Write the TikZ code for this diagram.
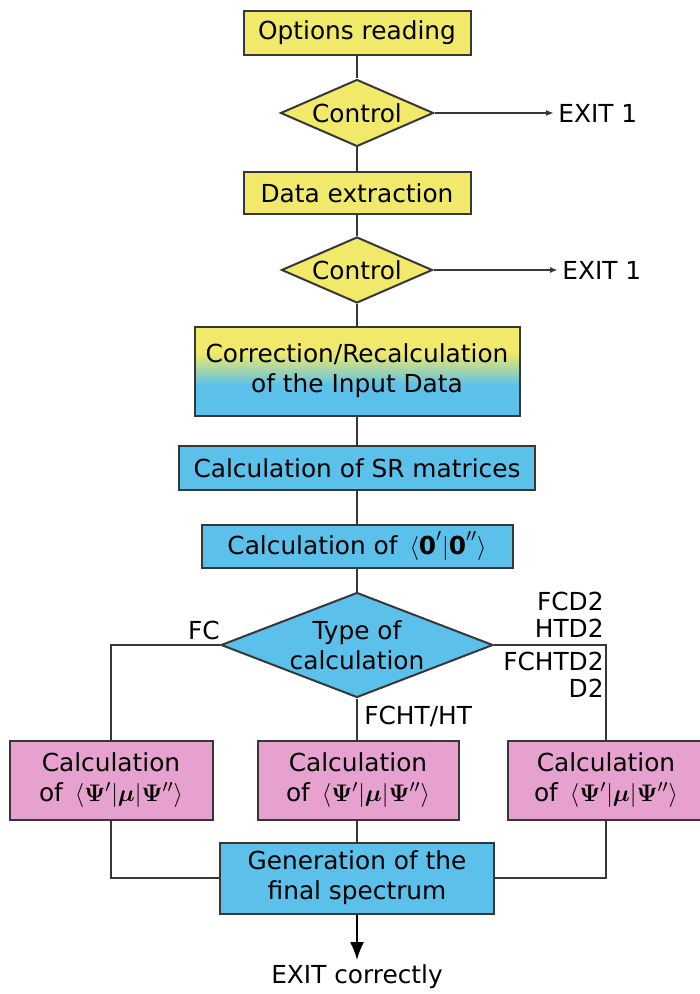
\documentclass[tikz,border=0pt]{standalone}
\usepackage{amsmath,amssymb}
\usepackage{bm}
\usepackage[no-math]{fontspec}
\setmainfont{DejaVu Sans}
\usetikzlibrary{shapes.geometric,arrows.meta}
\definecolor{flowyellow}{RGB}{240,233,106}
\definecolor{flowblue}{RGB}{91,193,235}
\definecolor{flowpink}{RGB}{231,161,206}
\definecolor{flowline}{RGB}{55,55,55}
\pgfdeclareverticalshading{yellowblue}{100bp}{color(0bp)=(flowblue); color(42bp)=(flowblue); color(60bp)=(flowyellow); color(100bp)=(flowyellow)}
\newcommand{\flowfont}{\fontsize{12.4}{15}\selectfont}
\newcommand{\labelfont}{\fontsize{12.4}{13.5}\selectfont}
\newcommand{\dipole}{$\langle\mathbf{\Psi}'|\bm{\mu}|\mathbf{\Psi}''\rangle$}
\tikzstyle{flowbox} = [draw=flowline, line width=1pt, rectangle, inner sep=0pt,
    align=center, font=\flowfont]
\tikzstyle{decision} = [draw=flowline, line width=1pt, diamond, inner sep=0pt,
    align=center, font=\flowfont]
\tikzstyle{flowlabel} = [inner sep=2pt, font=\labelfont]
\tikzstyle{conn} = [draw=flowline, line width=0.8pt]
\tikzstyle{exitarrow} = [conn, -{Latex[length=4pt,width=3pt]}]
\tikzstyle{endarrow} = [draw=black, line width=0.8pt, -{Latex[length=9pt,width=7pt]}]

\begin{document}
\begin{tikzpicture}[x=0.5pt, y=-0.5pt]
                \useasboundingbox (0,0) rectangle (700,994);
                \node [flowbox, fill=flowyellow, minimum width=113.5pt, minimum height=22pt] (opts) at (357,33) {Options reading};
                \node [decision, fill=flowyellow, minimum width=76.5pt, minimum height=33.5pt, aspect=2.28] (ctrla) at (357,113) {Control};
                \node [flowbox, fill=flowyellow, minimum width=113.5pt, minimum height=21pt] (data) at (357,193) {Data extraction};
                \node [decision, fill=flowyellow, minimum width=75.5pt, minimum height=33pt, aspect=2.28] (ctrlb) at (357,270) {Control};
                \node [flowbox, shading=yellowblue, minimum width=162.5pt, minimum height=44.5pt] (corr) at (357,371) {Correction/Recalculation\\of the Input Data};
                \node [flowbox, fill=flowblue, minimum width=178pt, minimum height=22pt] (srmat) at (357,468) {Calculation of SR matrices};
                \node [flowbox, fill=flowblue, minimum width=155.5pt, minimum height=21.5pt] (ovl) at (357,546) {Calculation of~\,$\langle\textbf{0}'|\textbf{0}''\rangle$};
                \node [decision, fill=flowblue, minimum width=136pt, minimum height=52.5pt, aspect=2.6] (type) at (357,645) {Type of\\calculation};
                \node [flowbox, fill=flowpink, minimum width=101.5pt, minimum height=39.5pt] (calcl) at (111,780) {Calculation\\of~\,\dipole};
                \node [flowbox, fill=flowpink, minimum width=100.5pt, minimum height=39.5pt] (calcm) at (358,780) {Calculation\\of~\,\dipole};
                \node [flowbox, fill=flowpink, minimum width=98pt, minimum height=39.5pt] (calcr) at (606,780) {Calculation\\of~\,\dipole};
                \node [flowbox, fill=flowblue, minimum width=137pt, minimum height=35.5pt] (gen) at (357,878) {Generation of the\\final spectrum};
                \node [flowlabel, anchor=west] (exita) at (554,113) {EXIT 1};
                \node [flowlabel, anchor=west] (exitb) at (558,270) {EXIT 1};
                \node [flowlabel, anchor=north] (exitok) at (357,960) {EXIT correctly};
                \node [flowlabel, anchor=south east] (fc) at (224,644) {FC};
                \node [flowlabel, anchor=south east, align=right] (dtwoa) at (608,642) {FCD2\\HTD2};
                \node [flowlabel, anchor=north east, align=right] (dtwob) at (608,648) {FCHTD2\\D2};
                \node [flowlabel, anchor=west] (fcht) at (360,716) {FCHT/HT};
                \draw [conn] (opts) -- (ctrla);
                \draw [conn] (ctrla) -- (data);
                \draw [conn] (data) -- (ctrlb);
                \draw [conn] (ctrlb) -- (corr);
                \draw [conn] (corr) -- (srmat);
                \draw [conn] (srmat) -- (ovl);
                \draw [conn] (ovl) -- (type);
                \draw [exitarrow] (ctrla.east) -- (exita.west);
                \draw [exitarrow] (ctrlb.east) -- (exitb.west);
                \draw [conn] (type.west) -| (calcl.north);
                \draw [conn] (type.south) -- (type.south |- calcm.north);
                \draw [conn] (type.east) -| (calcr.north);
                \draw [conn] (calcl.south) |- (gen.west);
                \draw [conn] (calcm.south -| gen.north) -- (gen.north);
                \draw [conn] (calcr.south) |- (gen.east);
                \draw [endarrow] (gen.south) -- (exitok.north);
            \end{tikzpicture}
\end{document}
